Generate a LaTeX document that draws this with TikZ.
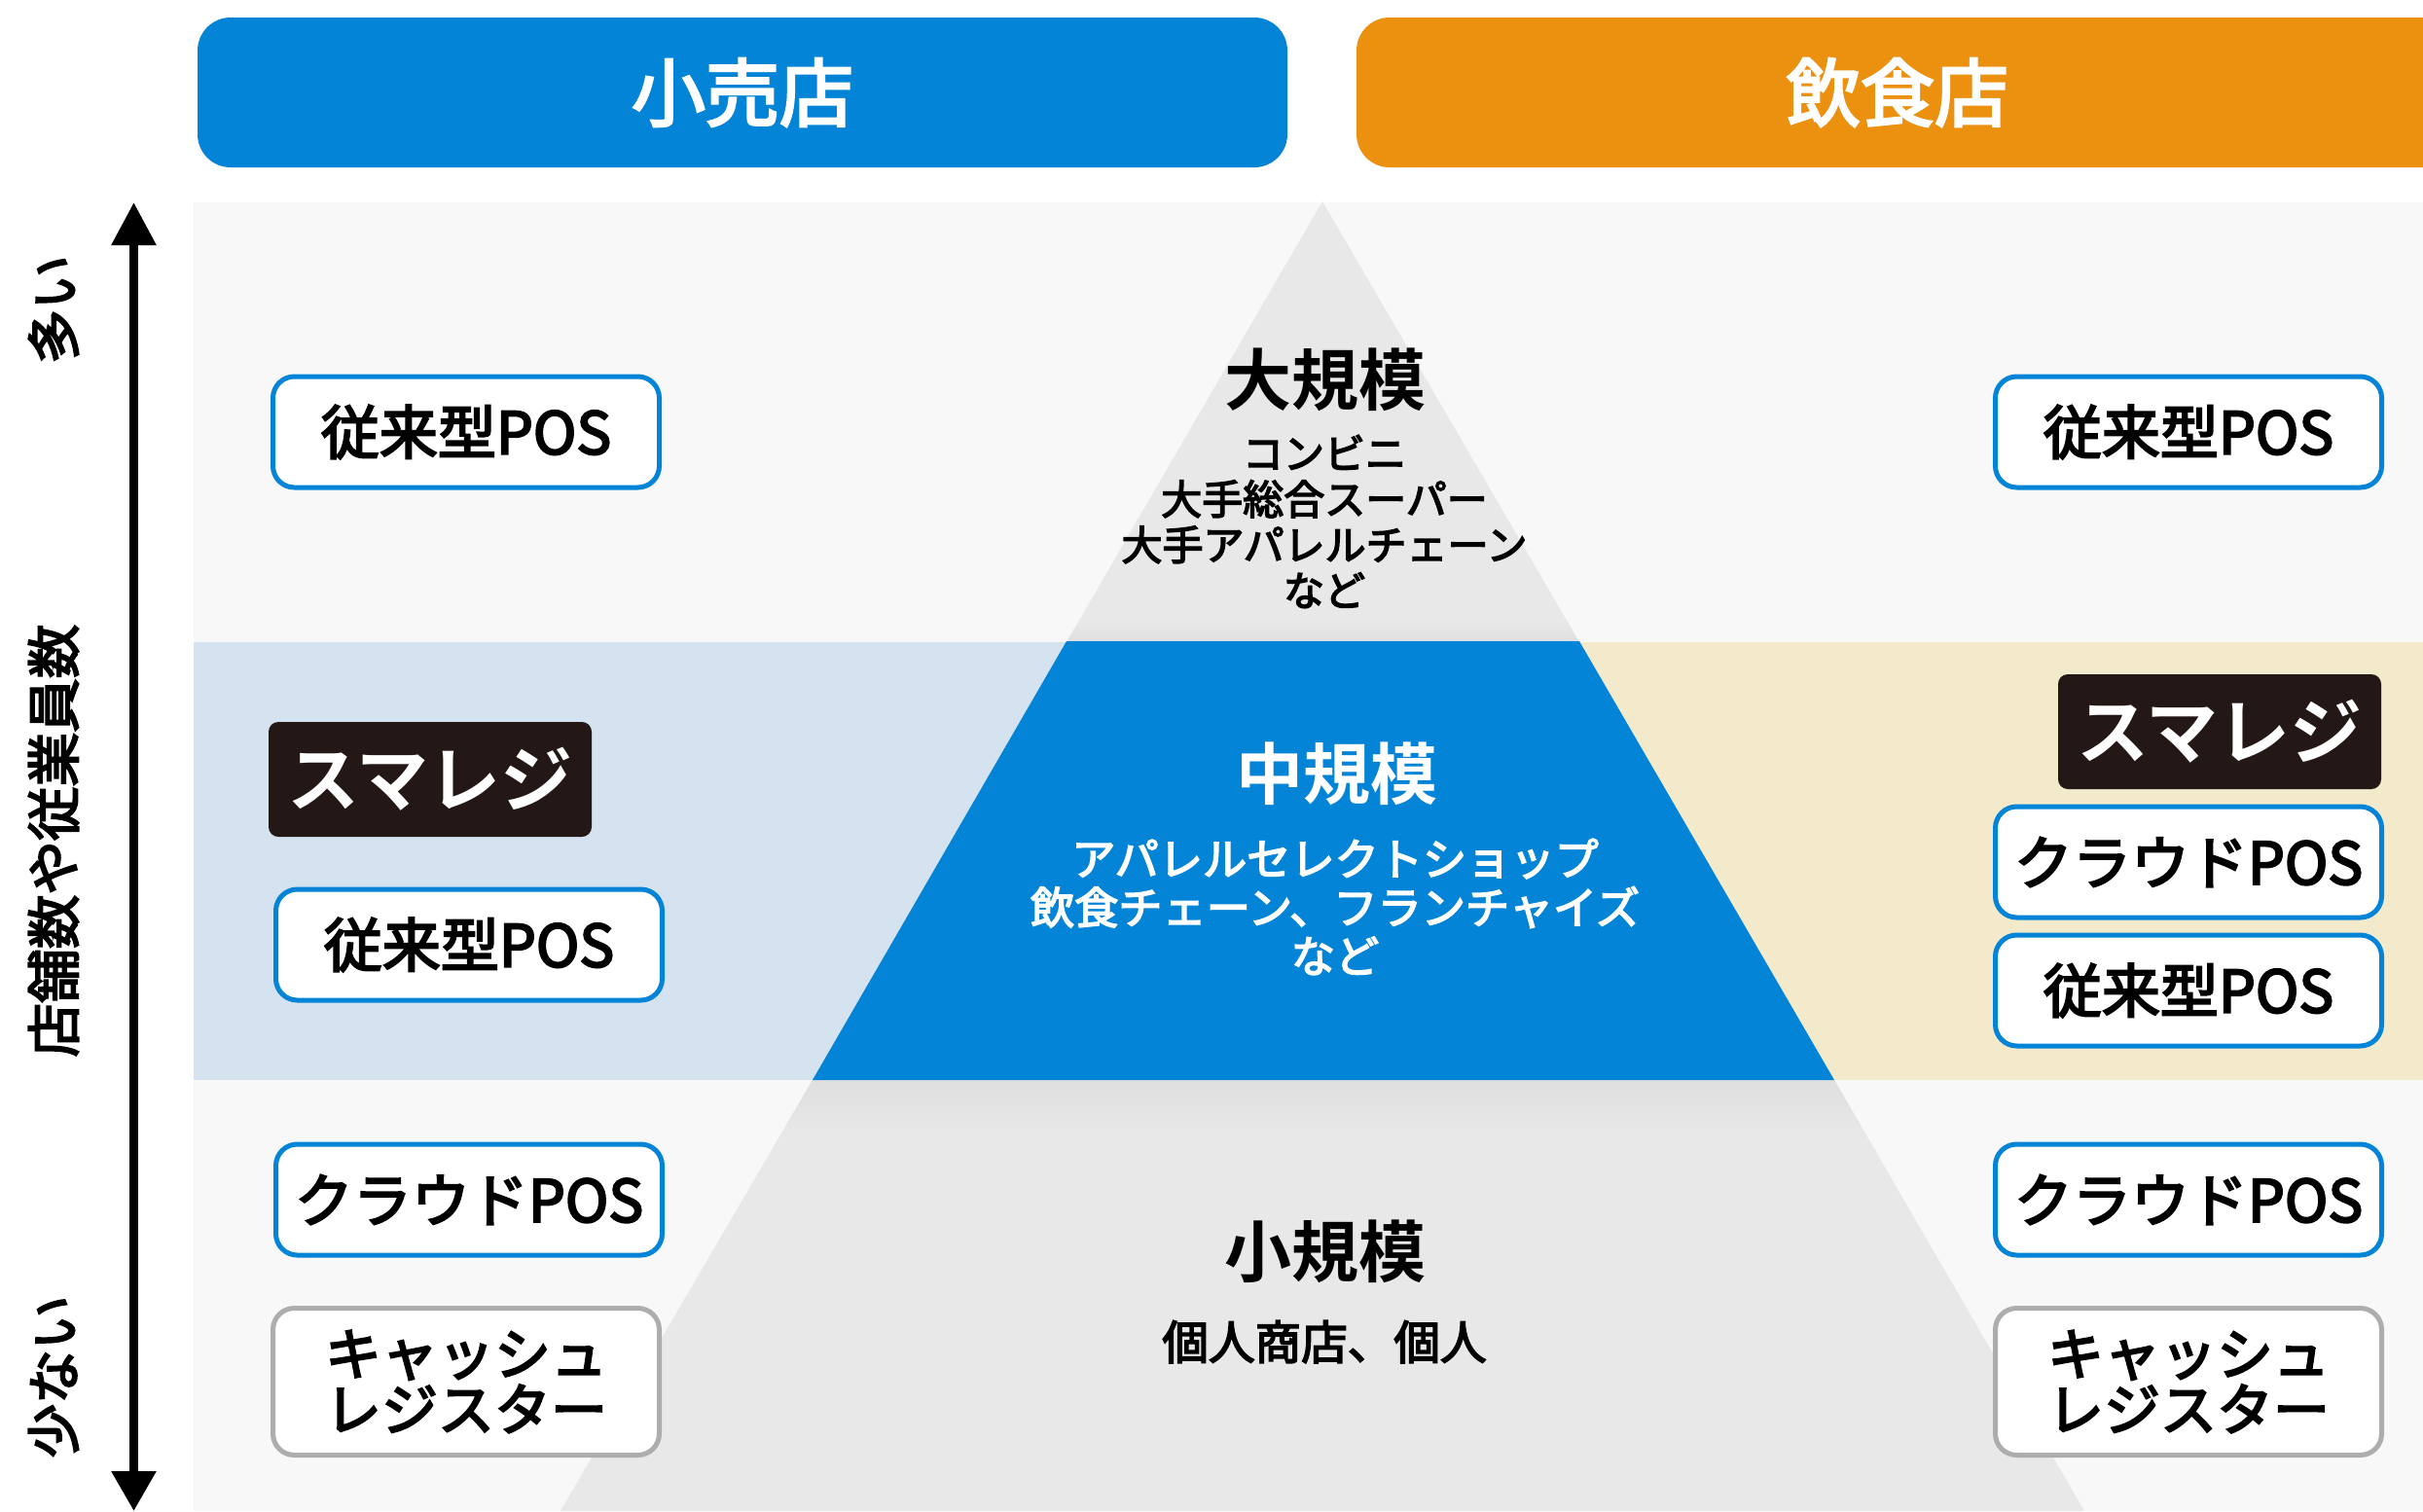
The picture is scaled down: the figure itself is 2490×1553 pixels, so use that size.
\documentclass[tikz,border=0pt]{standalone}
\usepackage{fontspec}
\usetikzlibrary{arrows.meta}
\setmainfont{Noto Sans CJK JP}[BoldFont={Noto Sans CJK JP Bold}]
\newfontfamily\jpmed{Noto Sans CJK JP}[FakeBold=3.5]
\newfontfamily\jpbold{Noto Sans CJK JP Bold}
\definecolor{brandblue}{HTML}{0484D6}
\definecolor{brandorange}{HTML}{EB900F}
\definecolor{panelgray}{HTML}{F8F8F8}
\definecolor{trigray}{HTML}{E8E8E8}
\definecolor{bandblue}{HTML}{D5E2F0}
\definecolor{bandcream}{HTML}{F3E9CB}
\definecolor{logoblack}{HTML}{231815}
\definecolor{edgegray}{HTML}{ADADAD}
\tikzset{
  headerbar/.style={rounded corners=17pt,inner sep=0pt,minimum height=77pt,text=white,font=\jpmed\fontsize{38}{44}\selectfont},
  posbox/.style={draw=brandblue,fill=white,line width=2.5pt,rounded corners=11pt,minimum width=198.5pt,minimum height=57pt,inner sep=0pt,font=\jpmed\fontsize{30}{34}\selectfont},
  regbox/.style={posbox,draw=edgegray,minimum height=75.5pt,align=center,font=\jpmed\fontsize{29}{28.5}\selectfont},
  logobox/.style={fill=logoblack,rounded corners=5pt,minimum width=166pt,minimum height=59pt,inner sep=0pt,text=white,font=\jpbold\fontsize{37}{40}\selectfont},
  tierhead/.style={inner sep=0pt,font=\jpbold\fontsize{34.5}{40}\selectfont},
  tiertext/.style={inner sep=0pt,align=center,font=\jpmed\fontsize{21}{23.5}\selectfont},
  sidetext/.style={inner sep=0pt,rotate=90,font=\jpmed\fontsize{27.8}{32}\selectfont},
  axisline/.style={line width=4.5pt,{Triangle[length=22pt,width=22pt]}-{Triangle[length=20.5pt,width=22pt]}}
}
\begin{document}
\begin{tikzpicture}[x=0.5pt,y=-0.5pt]
\useasboundingbox (0,0) rectangle (2490,1553);
\clip (0,0) rectangle (2490,1553);
% panels
\fill[panelgray] (199,208) rectangle (2490,1553);
\fill[bandblue] (199,660) rectangle (1300,1110);
\fill[bandcream] (1400,660) rectangle (2490,1110);
% pyramid
\fill[trigray] (1359,207) -- (1623,660) -- (1096,660) -- cycle;
\shade[top color=trigray,bottom color=black!4!trigray] (1108,640) -- (1611,640) -- (1623,660) -- (1096,660) -- cycle;
\fill[trigray] (835,1110) -- (1885,1110) -- (2142,1553) -- (576,1553) -- cycle;
\shade[top color=black!4!trigray,bottom color=trigray] (835,1110) -- (1885,1110) -- (1917,1165) -- (803,1165) -- cycle;
\fill[brandblue] (1096,659) -- (1623,659) -- (1885,1110) -- (835,1110) -- cycle;
% headers
\node[headerbar,fill=brandblue,minimum width=560pt] (retail) at (763,95) {小売店};
\path[rounded corners=17pt,fill=brandorange] (1394,18) rectangle (2560,172);
\node[inner sep=0pt,text=white,font=\jpmed\fontsize{38}{44}\selectfont] (food) at (1950,95) {飲食店};
% axis
\coordinate (axistop) at (137.5,208);
\coordinate (axisbot) at (137.5,1553);
\draw[axisline] (axistop) -- (axisbot);
\node[sidetext] (many) at (55,318) {多い};
\node[sidetext] (count) at (55,864) {店舗数や従業員数};
\node[sidetext] (few) at (55,1415) {少ない};
% tier labels
\node[tierhead] (large) at (1362,390) {大規模};
\node[tiertext] (largetxt) at (1361,536) {コンビニ\\大手総合スーパー\\大手アパレルチェーン\\など};
\node[tierhead,text=white] (mid) at (1374,795) {中規模};
\node[tiertext,text=white,font=\jpmed\fontsize{22.6}{25}\selectfont] (midtxt) at (1372,932) {アパレルセレクトショップ\\飲食チェーン、フランチャイズ\\など};
\node[tierhead] (small) at (1362,1286) {小規模};
\node[tiertext,font=\jpmed\fontsize{23.8}{28}\selectfont] (smalltxt) at (1361,1379) {個人商店、個人};
% left boxes
\node[posbox] (l1) at (479,444) {従来型POS};
\node[logobox] (l2) at (442,801) {スマレジ};
\node[posbox] (l3) at (482,971) {従来型POS};
\node[posbox] (l4) at (482,1233) {クラウドPOS};
\node[regbox] (l5) at (479,1420) {キャッシュ\\レジスター};
% right boxes
\node[posbox] (r1) at (2249,444) {従来型POS};
\node[logobox] (r2) at (2281,752) {スマレジ};
\node[posbox] (r3) at (2249,886) {クラウドPOS};
\node[posbox] (r4) at (2249,1018) {従来型POS};
\node[posbox] (r5) at (2249,1233) {クラウドPOS};
\node[regbox] (r6) at (2249,1420) {キャッシュ\\レジスター};
\end{tikzpicture}
\end{document}
